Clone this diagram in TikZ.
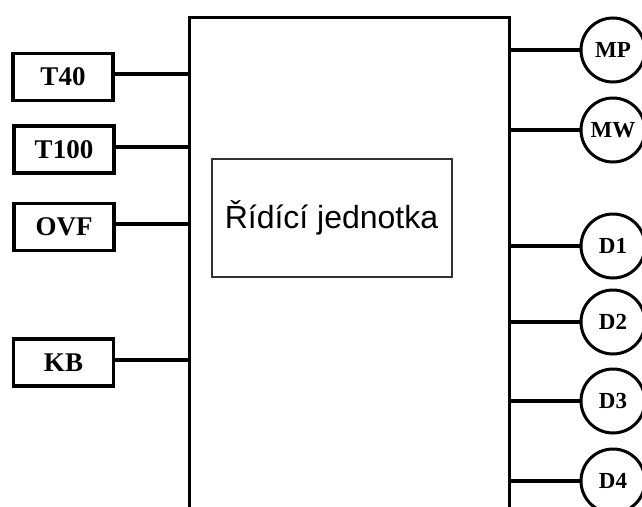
\documentclass[tikz,border=0pt]{standalone}
\usepackage{fontspec}
\setmainfont{Liberation Serif}
\newfontfamily\arialfont{Liberation Sans}
\begin{document}
\begin{tikzpicture}[x=1pt,y=-1pt,
  inbox/.style={draw, line width=3.5pt, minimum width=100pt, minimum height=47pt, inner sep=0pt,
    font=\bfseries\fontsize{27}{27}\selectfont},
  outcirc/.style={draw, circle, line width=3pt, minimum size=64pt, inner sep=0pt,
    font=\bfseries\fontsize{23}{23}\selectfont},
  wire/.style={line width=3.5pt}]
\clip (0,0) rectangle (642,506);
\fill[white] (0,0) rectangle (642,506);
\node[draw, line width=3.5pt, minimum width=320pt, minimum height=540pt, anchor=north west] (main) at (187.5,15.5) {};
\node[draw=black!80, line width=2pt, minimum width=240pt, minimum height=118pt, inner sep=0pt,
  font=\arialfont\fontsize{32}{32}\selectfont] (ctrl) at (331.5,217.5) {Řídící jednotka};
% left inputs
\node[inbox] (t40) at (63,77) {T40};
\node[inbox] (t100) at (64,149.5) {T100};
\node[inbox] (ovf) at (64,227) {OVF};
\node[inbox] (kb) at (63.5,362.5) {KB};
\draw[wire] (t40.east |- 0,74) -- (main.west |- 0,74);
\draw[wire] (t100.east |- 0,147) -- (main.west |- 0,147);
\draw[wire] (ovf.east |- 0,224) -- (main.west |- 0,224);
\draw[wire] (kb.east |- 0,360) -- (main.west |- 0,360);
% right outputs
\node[outcirc] (mp) at (613,50) {MP};
\node[outcirc] (mw) at (613,130) {MW};
\node[outcirc] (d1) at (613,246) {D1};
\node[outcirc] (d2) at (613,322) {D2};
\node[outcirc] (d3) at (613,401) {D3};
\node[outcirc] (d4) at (613,481) {D4};
\foreach \n in {mp,mw,d1,d2,d3,d4}
  \draw[wire] (\n.west) -- (\n.west -| main.east);
\end{tikzpicture}
\end{document}
